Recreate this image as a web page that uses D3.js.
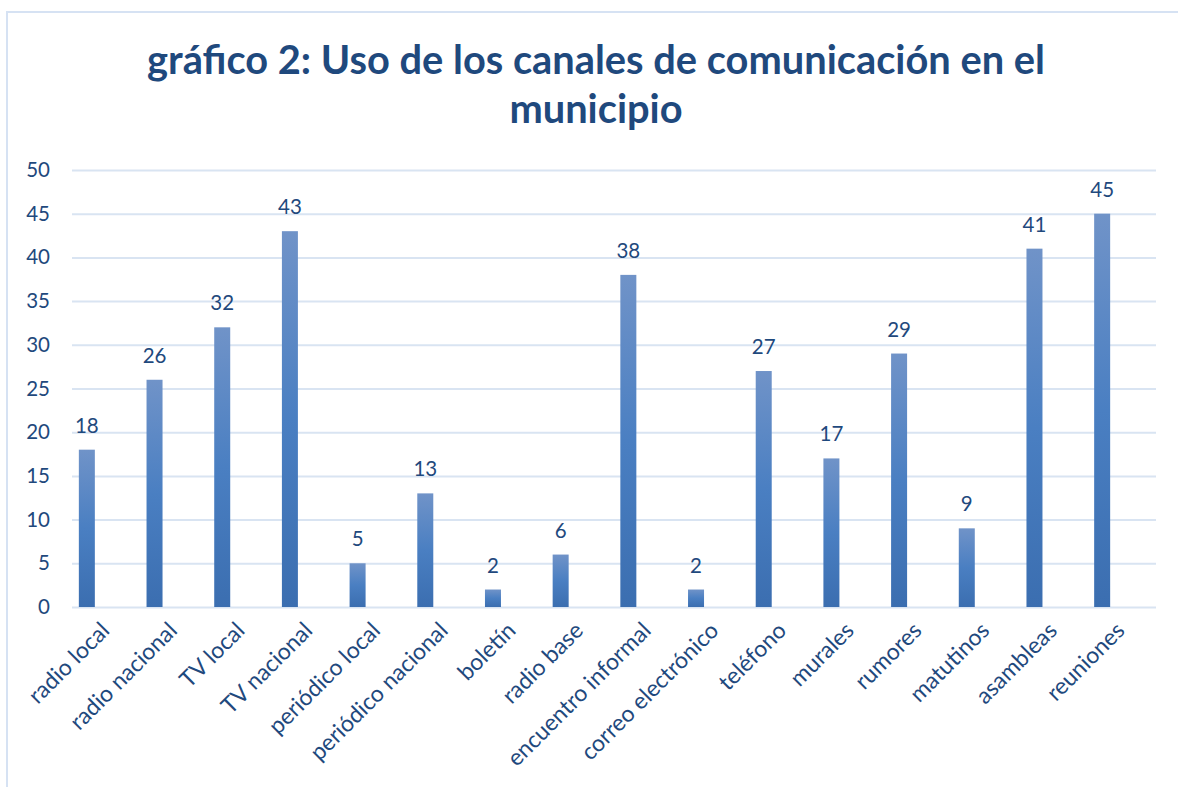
<!DOCTYPE html>
<html>
<head>
<meta charset="utf-8">
<script src="https://cdn.jsdelivr.net/npm/d3@7"></script>
<style>
  body { margin: 0; background: #fff; }
  svg { display: block; font-family: Lato, "Open Sans", sans-serif; }
</style>
</head>
<body>
<svg id="chart" width="1178" height="787"></svg>
<script>
const titleLines = ['gráfico 2: Uso de los canales de comunicación en el', 'municipio'];
const categories = ['radio local', 'radio nacional', 'TV local', 'TV nacional', 'periódico local',
  'periódico nacional', 'boletín', 'radio base', 'encuentro informal', 'correo electrónico',
  'teléfono', 'murales', 'rumores', 'matutinos', 'asambleas', 'reuniones'];
const values = [18, 26, 32, 43, 5, 13, 2, 6, 38, 2, 27, 17, 29, 9, 41, 45];
const yTicks = [0, 5, 10, 15, 20, 25, 30, 35, 40, 45, 50];

const textColor = '#1f497d';
const gridColor = '#d9e4f2';

const svg = d3.select('#chart');

// outer frame of the chart object (cropped on the right / bottom)
svg.append('rect')
  .attr('x', 7).attr('y', 12)
  .attr('width', 1300).attr('height', 900)
  .attr('fill', 'none')
  .attr('stroke', '#d6e2f3')
  .attr('stroke-width', 2);

const grad = svg.append('defs').append('linearGradient')
  .attr('id', 'barFill')
  .attr('x1', 0).attr('y1', 0).attr('x2', 0).attr('y2', 1);
grad.append('stop').attr('offset', '0%').attr('stop-color', '#7093c8');
grad.append('stop').attr('offset', '50%').attr('stop-color', '#4a7fc2');
grad.append('stop').attr('offset', '100%').attr('stop-color', '#3b6eb0');

const plot = {left: 72, right: 1156, top: 170, bottom: 607};

const x = d3.scaleBand().domain(categories).range([53, 1136]);
const y = d3.scaleLinear().domain([0, 50]).range([plot.bottom, plot.top]);
const barWidth = 16;

// title
svg.append('text')
  .attr('text-anchor', 'middle')
  .attr('fill', textColor)
  .attr('font-weight', 'bold')
  .attr('font-size', 39.8)
  .selectAll('tspan')
  .data(titleLines)
  .join('tspan')
    .attr('x', 596)
    .attr('y', (_, i) => 74 + i * 49)
    .text(d => d);

// y axis (labels + gridlines)
const yAxis = svg.append('g')
  .attr('transform', `translate(${plot.left},0)`)
  .call(d3.axisLeft(y).tickValues(yTicks).tickSize(0).tickPadding(22))
  .call(g => g.select('.domain').remove());
yAxis.selectAll('.tick line').clone()
  .attr('x2', plot.right - plot.left)
  .attr('stroke', gridColor)
  .attr('stroke-width', 2);
yAxis.selectAll('.tick text')
  .attr('fill', textColor)
  .attr('font-family', 'Lato, sans-serif')
  .attr('font-size', 20.5);

// bars
svg.append('g')
  .selectAll('rect')
  .data(values)
  .join('rect')
    .attr('x', (d, i) => x(categories[i]) + x.bandwidth() / 2 - barWidth / 2)
    .attr('y', d => y(d))
    .attr('width', barWidth)
    .attr('height', d => y(0) - y(d))
    .attr('fill', 'url(#barFill)');

// value labels
svg.append('g')
  .selectAll('text')
  .data(values)
  .join('text')
    .attr('x', (d, i) => x(categories[i]) + x.bandwidth() / 2)
    .attr('y', d => y(d) - 17)
    .attr('text-anchor', 'middle')
    .attr('fill', textColor)
    .attr('font-size', 20.5)
    .text(d => d);

// category labels
svg.append('g')
  .selectAll('text')
  .data(categories)
  .join('text')
    .attr('transform', d => `translate(${x(d) + x.bandwidth() / 2 + 24},632) rotate(-45)`)
    .attr('text-anchor', 'end')
    .attr('fill', textColor)
    .attr('font-size', 23)
    .text(d => d);
</script>
</body>
</html>
